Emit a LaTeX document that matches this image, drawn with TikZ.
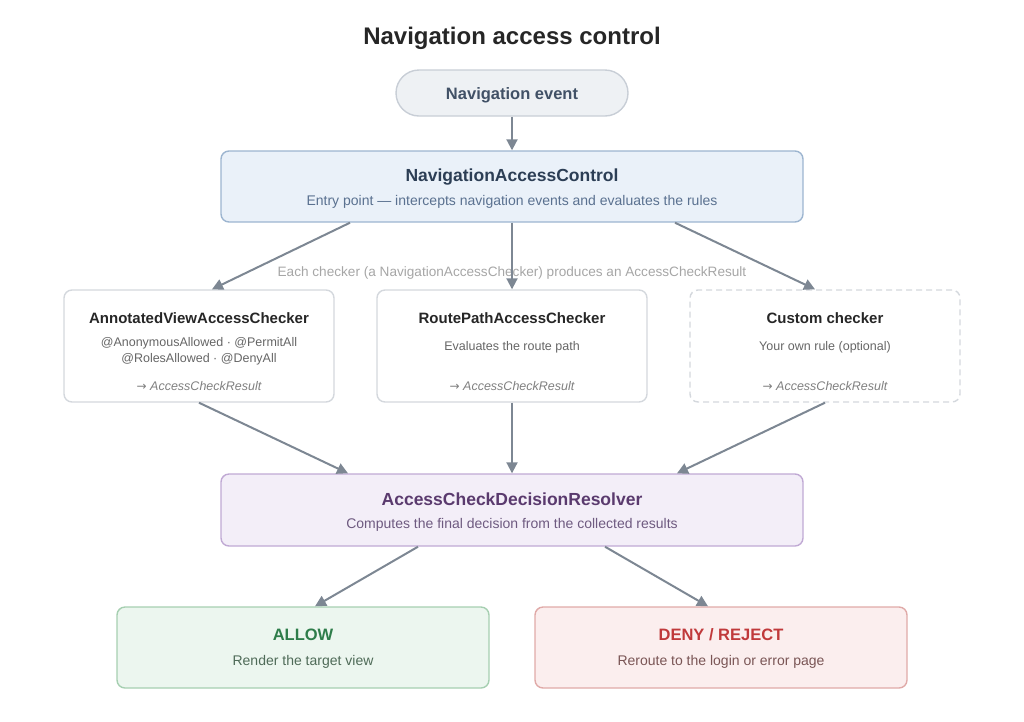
\documentclass[tikz,border=0pt]{standalone}
\usepackage{fontspec}
\setmainfont{Liberation Sans}
\newfontfamily\arrowfont{DejaVu Sans}
\usetikzlibrary{arrows.meta}

\definecolor{arrowgray}{HTML}{7D8793}
\definecolor{evfill}{HTML}{EEF1F4}
\definecolor{evline}{HTML}{C8CED6}
\definecolor{navfill}{HTML}{EAF1F9}
\definecolor{navline}{HTML}{9DB5D0}
\definecolor{navtext}{HTML}{2C3E55}
\definecolor{navsub}{HTML}{5A7190}
\definecolor{chkline}{HTML}{D4D8DD}
\definecolor{resfill}{HTML}{F3EEF8}
\definecolor{resline}{HTML}{C0A9D4}
\definecolor{restext}{HTML}{5A3A6E}
\definecolor{ressub}{HTML}{6E5A80}
\definecolor{okfill}{HTML}{ECF6EF}
\definecolor{okline}{HTML}{A6CFB1}
\definecolor{oktext}{HTML}{2E7D4A}
\definecolor{oksub}{HTML}{4F6B58}
\definecolor{nofill}{HTML}{FBEEEE}
\definecolor{noline}{HTML}{E0AAA8}
\definecolor{notext}{HTML}{C0393B}
\definecolor{nosub}{HTML}{7A5555}

\newcommand{\toresult}{{\upshape\arrowfont\fontsize{12}{14}\selectfont →} AccessCheckResult}

\begin{document}
\begin{tikzpicture}[x=1pt,y=-1pt,
    box/.style={draw, rounded corners=8pt, line width=1.4pt, inner sep=0pt},
    txt/.style={yshift=-2pt},
    ttl/.style={txt, font=\fontsize{15}{18}\selectfont\bfseries, text=black!85},
    big/.style={txt, font=\fontsize{17.5}{20}\selectfont\bfseries},
    sub/.style={txt, font=\fontsize{14}{16}\selectfont},
    small/.style={txt, font=\fontsize{12.5}{16.5}\selectfont, text=black!60, align=center},
    res/.style={txt, font=\fontsize{12.5}{15}\selectfont\itshape, text=black!50},
    flow/.style={-{Triangle[length=11pt,width=11pt]}, draw=arrowgray, line width=2pt}]
  \useasboundingbox (0,0) rectangle (1024,721);

  \node[txt, font=\fontsize{24}{28}\selectfont\bfseries, text=black!85] (title) at (512,36) {Navigation access control};

  % entry
  \node[box, rounded corners=23pt, fill=evfill, draw=evline, minimum width=232pt, minimum height=46pt] (event) at (512,93) {};
  \node[ttl, font=\fontsize{16.5}{19}\selectfont\bfseries, text=navtext!90] at (event) {Navigation event};

  \node[box, fill=navfill, draw=navline, minimum width=582pt, minimum height=71pt] (nac) at (512,186.5) {};
  \node[big, text=navtext] at (512,175) {NavigationAccessControl};
  \node[sub, text=navsub] at (512,200) {Entry point — intercepts navigation events and evaluates the rules};

  \node[txt, font=\fontsize{13.6}{16}\selectfont, text=black!35] (note) at (512,271) {Each checker (a NavigationAccessChecker) produces an AccessCheckResult};

  % checkers
  \node[box, draw=chkline, fill=white, minimum width=270pt, minimum height=112pt] (chk1) at (199,346) {};
  \node[ttl] at (199,316) {AnnotatedViewAccessChecker};
  \node[small] at (199,349.5) {@AnonymousAllowed · @PermitAll\\@RolesAllowed · @DenyAll};
  \node[res] at (199,384) {\toresult};

  \node[box, draw=chkline, fill=white, minimum width=270pt, minimum height=112pt] (chk2) at (512,346) {};
  \node[ttl] at (512,316) {RoutePathAccessChecker};
  \node[small] at (512,345) {Evaluates the route path};
  \node[res] at (512,384) {\toresult};

  \node[box, draw=chkline, dash pattern=on 6pt off 4pt, fill=white, minimum width=270pt, minimum height=112pt] (chk3) at (825,346) {};
  \node[ttl] at (825,316) {Custom checker};
  \node[small] at (825,345) {Your own rule (optional)};
  \node[res] at (825,384) {\toresult};

  % decision
  \node[box, fill=resfill, draw=resline, minimum width=582pt, minimum height=72pt] (resolver) at (512,510) {};
  \node[big, text=restext] at (512,497) {AccessCheckDecisionResolver};
  \node[sub, text=ressub] at (512,523) {Computes the final decision from the collected results};

  \node[box, fill=okfill, draw=okline, minimum width=372pt, minimum height=81pt] (allow) at (303,647.5) {};
  \node[ttl, font=\fontsize{16.5}{19}\selectfont\bfseries, text=oktext] at (303,633) {ALLOW};
  \node[sub, text=oksub] at (303,660) {Render the target view};

  \node[box, fill=nofill, draw=noline, minimum width=372pt, minimum height=81pt] (deny) at (721,647.5) {};
  \node[ttl, font=\fontsize{16.5}{19}\selectfont\bfseries, text=notext] at (721,633) {DENY / REJECT};
  \node[sub, text=nosub] at (721,660) {Reroute to the login or error page};

  % connectors
  \draw[flow] (event) -- (nac);
  \draw[flow] ([xshift=-162pt]nac.south) -- ([xshift=13pt]chk1.north);
  \draw[flow] (nac) -- (chk2);
  \draw[flow] ([xshift=163pt]nac.south) -- ([xshift=-10pt]chk3.north);
  \draw[flow] (chk1.south) -- ([xshift=-164pt]resolver.north);
  \draw[flow] (chk2) -- (resolver);
  \draw[flow] (chk3.south) -- ([xshift=165pt]resolver.north);
  \draw[flow] ([xshift=-94pt]resolver.south) -- ([xshift=12pt]allow.north);
  \draw[flow] ([xshift=93pt]resolver.south) -- ([xshift=-13pt]deny.north);
\end{tikzpicture}
\end{document}
